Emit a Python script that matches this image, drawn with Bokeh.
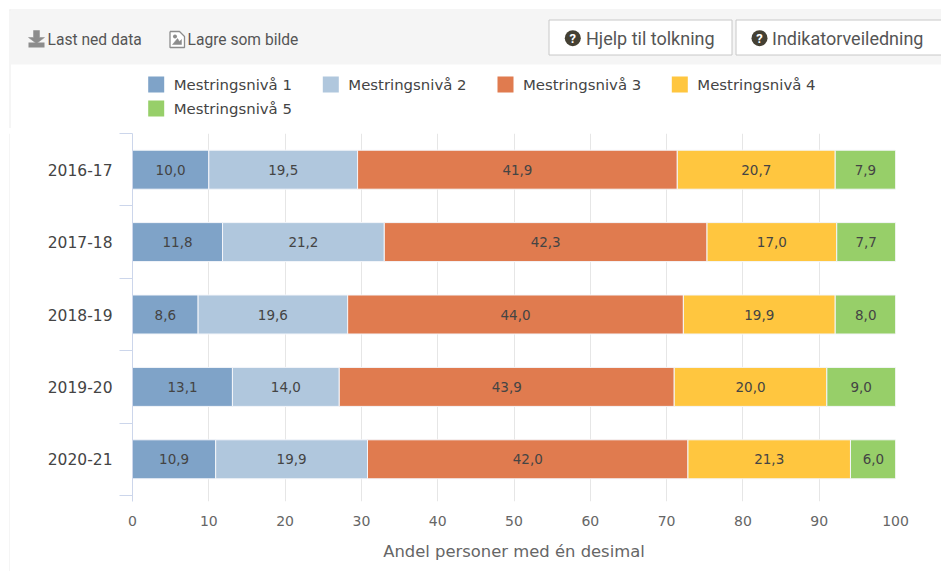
from bokeh.plotting import figure
from bokeh.layouts import column, row
from bokeh.models import Range1d, FixedTicker, ColumnDataSource
from bokeh.core.properties import value
from bokeh.embed import file_html
from bokeh.resources import INLINE

years = ["2016-17", "2017-18", "2018-19", "2019-20", "2020-21"]
niva1 = [10.0, 11.8, 8.6, 13.1, 10.9]
niva2 = [19.5, 21.2, 19.6, 14.0, 19.9]
niva3 = [41.9, 42.3, 44.0, 43.9, 42.0]
niva4 = [20.7, 17.0, 19.9, 20.0, 21.3]
niva5 = [7.9, 7.7, 8.0, 9.0, 6.0]
series = [niva1, niva2, niva3, niva4, niva5]
names = ["Mestringsnivå 1", "Mestringsnivå 2", "Mestringsnivå 3", "Mestringsnivå 4", "Mestringsnivå 5"]
colors = ["#7fa3c8", "#b0c7dd", "#e07b4f", "#ffc63f", "#97cf69"]
x_ticks = [0, 10, 20, 30, 40, 50, 60, 70, 80, 90, 100]

FONT = "DejaVu Sans"
W, H = 941, 571
TOP_H = 128
STRIP_W = 10
MAIN_W = W - STRIP_W
MAIN_H = H - TOP_H
L, R, T, B = 132 - STRIP_W, 895 - STRIP_W, 133 - TOP_H, 501 - TOP_H
BAND = 72.4

# ---- main chart ----
p = figure(width=MAIN_W, height=MAIN_H, output_backend="svg", toolbar_location=None,
           x_range=Range1d(0, 100), y_range=Range1d((B - T) / BAND, 0),
           min_border_left=L, min_border_right=MAIN_W - R, min_border_top=T, min_border_bottom=MAIN_H - B,
           frame_width=R - L, frame_height=B - T)
p.outline_line_color = None
p.ygrid.visible = False
p.xgrid.ticker = FixedTicker(ticks=x_ticks)
p.xgrid.grid_line_color = "#e6e6e6"

xa = p.xaxis[0]
xa.ticker = FixedTicker(ticks=x_ticks)
xa.axis_line_color = None
xa.major_tick_line_color = None
xa.minor_tick_line_color = None
xa.major_label_text_color = "#666666"
xa.major_label_text_font = FONT
xa.major_label_text_font_size = "14px"
xa.major_label_standoff = 8
xa.axis_label = "Andel personer med én desimal"
xa.axis_label_text_font = FONT
xa.axis_label_text_font_style = "normal"
xa.axis_label_text_font_size = "16.4px"
xa.axis_label_text_color = "#666666"
xa.axis_label_standoff = 13

ya = p.yaxis[0]
centers = [i + 0.5 for i in range(len(years))]
edges = list(range(len(years) + 1))
ya.ticker = FixedTicker(ticks=centers, minor_ticks=edges)
ya.major_label_overrides = {c: y for c, y in zip(centers, years)}
ya.axis_line_color = "#ccd6eb"
ya.major_tick_line_color = None
ya.minor_tick_line_color = "#ccd6eb"
ya.minor_tick_out = 13
ya.minor_tick_in = 0
ya.major_label_text_color = "#444444"
ya.major_label_text_font = FONT
ya.major_label_text_font_size = "15.5px"
ya.major_label_standoff = 7

left = [0.0] * len(years)
for vals, col in zip(series, colors):
    right = [a + b for a, b in zip(left, vals)]
    src = ColumnDataSource(dict(y=centers, left=left, right=right,
                                mid=[(a + b) / 2 for a, b in zip(left, right)],
                                txt=[f"{v:.1f}".replace(".", ",") for v in vals]))
    p.hbar(y="y", left="left", right="right", height=39 / BAND, source=src,
           fill_color=col, line_color="#f4f6fa", line_width=1)
    p.text(x="mid", y="y", text="txt", source=src, text_align="center", text_baseline="middle",
           text_font=value(FONT), text_font_size="13.5px", text_color="#444444")
    left = right

# ---- header strip and legend, drawn in pixel coordinates ----
t = figure(width=W, height=TOP_H, output_backend="svg", toolbar_location=None,
           x_range=Range1d(0, W), y_range=Range1d(TOP_H, 0),
           x_axis_type=None, y_axis_type=None, min_border=0,
           frame_width=W, frame_height=TOP_H)
t.outline_line_color = None
t.grid.visible = False

def box(x0, x1, y0, y1, fill, line=None):
    t.quad(left=x0, right=x1, top=y0, bottom=y1, fill_color=fill, line_color=line)

def label(x, y, s, size, color, font="Roboto", align="left", style="normal"):
    t.text(x=[x], y=[y], text=[s], text_font=value(font), text_font_size=size, text_color=color,
           text_align=align, text_baseline="middle", text_font_style=style)

def icon(xs, ys, color):
    t.patch(x=xs, y=ys, fill_color=color, line_color=color, line_width=0.5)

box(9, 10, 9, TOP_H, "#ebebeb")
box(9, W, 9, 10, "#ebebeb")
box(10, W, 10, 64, "#f5f5f5")

# download icon
icon([33, 39, 39, 44, 36, 28, 33], [30, 30, 37, 37, 43, 37, 37], "#8c8c8c")
box(28, 44, 42, 47, "#8c8c8c")
label(47, 39.5, "Last ned data", "15.6px", "#555555")

# image icon
icon([169.5, 179, 184, 184, 169.5], [31, 31, 36, 47, 47], "#ffffff")
t.line(x=[169.5, 179, 184, 184, 169.5, 169.5], y=[31, 31, 36, 47, 47, 31], line_color="#8c8c8c", line_width=1.3)
icon([172, 177, 179, 181, 181, 172], [44, 38, 41, 39, 44, 44], "#8c8c8c")
t.scatter(x=[174.5], y=[36], size=4, marker="circle", fill_color="#8c8c8c", line_color=None)
label(187, 39.5, "Lagre som bilde", "15.6px", "#555555")

# buttons
box(548.5, 731.5, 19.5, 54.5, "#ffffff", "#c8c8c8")
box(735.5, 950, 19.5, 54.5, "#ffffff", "#c8c8c8")
for cx, tx, s in [(572.3, 585.5, "Hjelp til tolkning"), (759, 771.5, "Indikatorveiledning")]:
    t.scatter(x=[cx], y=[37.7], size=16, marker="circle", fill_color="#444033", line_color=None)
    label(cx, 38.2, "?", "13px", "#ffffff", align="center", style="bold")
    label(tx, 38, s, "18px", "#555555")

# legend
legend_x = [147.7, 322.3, 497, 671.3, 147.7]
legend_y = [84, 84, 84, 84, 108]
for nm, col, lx, ly in zip(names, colors, legend_x, legend_y):
    box(lx, lx + 16, ly - 8, ly + 8, col)
    label(lx + 25.5, ly, nm, "14.9px", "#444444", font=FONT)

# left border beside the chart
s = figure(width=STRIP_W, height=MAIN_H, output_backend="svg", toolbar_location=None,
           x_range=Range1d(0, STRIP_W), y_range=Range1d(MAIN_H, 0),
           x_axis_type=None, y_axis_type=None, min_border=0,
           frame_width=STRIP_W, frame_height=MAIN_H)
s.outline_line_color = None
s.grid.visible = False
s.quad(left=9, right=10, top=0, bottom=MAIN_H, fill_color="#ebebeb", line_color=None)

page = column(t, row(s, p, spacing=0), spacing=0)
open("out.html", "w").write(file_html(page, INLINE))
